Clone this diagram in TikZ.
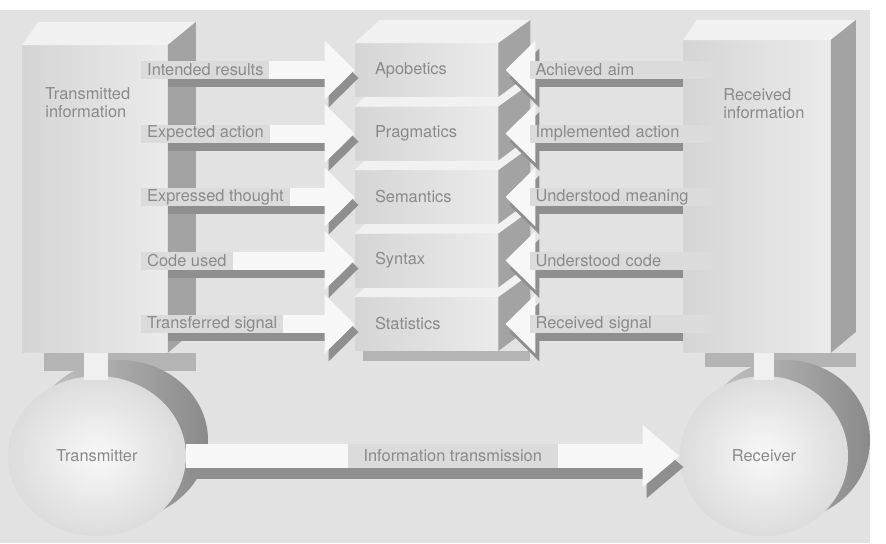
\documentclass[tikz,border=0pt]{standalone}
\usepackage{fontspec}
\setmainfont{TeX Gyre Heros}
\usetikzlibrary{arrows.meta,calc,shapes.geometric}
\definecolor{paper}{HTML}{E2E2E2}
\definecolor{frontl}{HTML}{D5D5D5}
\definecolor{frontr}{HTML}{EBEBEB}
\definecolor{topg}{HTML}{F1F1F1}
\definecolor{sideg}{HTML}{A3A3A3}
\definecolor{shadowg}{HTML}{8F8F8F}
\definecolor{floorg}{HTML}{B4B4B4}
\definecolor{labelg}{HTML}{DBDBDB}
\definecolor{bandg}{HTML}{F7F7F7}
\definecolor{textg}{HTML}{8A8A8A}
\definecolor{discin}{HTML}{F8F8F8}
\definecolor{discout}{HTML}{DCDCDC}
\definecolor{rimin}{HTML}{C6C6C6}
\definecolor{rimout}{HTML}{8A8A8A}
\definecolor{neckg}{HTML}{F0F0F0}
\tikzset{
  txt/.style={text=textg, font=\fontsize{8.2}{9}\selectfont, inner sep=0pt},
  block/.style={txt, anchor=north west, left color=frontl, right color=frontr},
  slab/.style={txt, left color=frontl, right color=frontr, minimum width=71.5pt,
    minimum height=26.5pt, text width=51.5pt, inner xsep=10pt, align=left},
  topface/.style={fill=topg},
  sideface/.style={fill=sideg},
  floorshadow/.style={fill=floorg},
  disc/.style={txt, ellipse, inner color=discin, outer color=discout, minimum height=80pt},
  rim/.style={ellipse, inner sep=0pt, left color=rimin, right color=rimout, minimum height=80pt},
  band/.style={draw=bandg, line width=9pt, -{Triangle[length=15pt,width=28.5pt]}},
  bandshadow/.style={band, draw=shadowg},
  lab/.style={txt, fill=labelg, minimum height=9pt, inner xsep=3pt},
}
\begin{document}
\begin{tikzpicture}[x=0.5pt, y=-0.5pt]
  \useasboundingbox (0,0) rectangle (886,543);
  \fill[paper] (0,10) rectangle (870,543);
  % sender and receiver blocks
  \node[block, minimum width=72.5pt, minimum height=153.5pt] (ti) at (22,45) {};
  \fill[topface] (ti.north west) -- ++(16,-23) -- ++(157,0) -- (ti.north east) -- cycle;
  \fill[sideface] (ti.north east) -- ++(28,-23) -- ++(0,307) -- (ti.south east) -- cycle;
  \node[txt, anchor=north west, align=left] (tilab) at ($(ti.north west)+(23,42)$) {Transmitted\\information};
  \node[block, minimum width=73.5pt, minimum height=156pt] (ri) at (683,40) {};
  \fill[topface] (ri.north west) -- ++(14,-20) -- ++(158,0) -- (ri.north east) -- cycle;
  \fill[sideface] (ri.north east) -- ++(25,-20) -- ++(0,312) -- (ri.south east) -- cycle;
  \node[txt, anchor=north west, align=left] (rilab) at ($(ri.north west)+(40,48)$) {Received\\information};
  \fill[floorshadow] ($(ti.south west)+(22,0)$) rectangle ($(ti.south east)+(28,18)$);
  \fill[floorshadow] ($(ri.south west)+(22,0)$) rectangle ($(ri.south east)+(25,14)$);
  % discs
  \node[rim, minimum width=89pt] (txrim) at (119,440) {};
  \node[rim, minimum width=84pt] (rxrim) at (786,440) {};
  \node[disc, minimum width=89pt] (tx) at (97,456) {Transmitter};
  \node[disc, minimum width=84pt] (rx) at (764,456) {Receiver};
  \fill[neckg] ($(ti.south)+(-11,0)$) rectangle ($(tx.north)+(11,4)$);
  \fill[neckg] ($(rx.north |- ri.south)+(-10,0)$) rectangle ($(rx.north)+(10,4)$);
  \draw[bandshadow, line width=12pt, -{Triangle[length=18.5pt,width=30pt]}] ($(tx.east)+(4,11)$) -- ($(rx.west)+(4,11)$);
  \draw[band, line width=12pt, -{Triangle[length=18.5pt,width=30pt]}] (tx.east) -- (rx.west);
  \path (tx.east) -- node[lab, minimum height=12pt, inner xsep=8pt, pos=0.54] (itlab) {Information transmission} (rx.west);
  % the five levels
  \foreach \n/\t/\y in {sta/Statistics/324, syn/Syntax/260.5, sem/Semantics/197,
                        pra/Pragmatics/133.5, apo/Apobetics/70} {
    \node[slab] (\n) at (426.5,\y) {\t};
    \fill[topface] (\n.north west) -- ++(25,-23) -- ++(150,0) -- (\n.north east) -- cycle;
    \fill[sideface] (\n.north east) -- ++(32,-23) -- ++(0,53) -- (\n.south east) -- cycle;
  }
  \fill[floorshadow] ($(sta.south west)+(8,0)$) rectangle ($(sta.south east)+(32,10)$);
  % sender side
  \foreach \n/\l in {apo/Intended results, pra/Expected action, sem/Expressed thought,
                     syn/Code used, sta/Transferred signal} {
    \draw[bandshadow] ($(ti.east |- \n.west)+(0,8)$) -- ($(\n.west)+(4,8)$);
    \draw[band] ($(ti.east |- \n.west)+(-27,0)$) -- (\n.west);
    \node[lab, anchor=west] (\n-in) at ($(ti.east |- \n.west)+(-27,0)$) {\l};
  }
  % receiver side
  \foreach \n/\l in {apo/Achieved aim, pra/Implemented action, sem/Understood meaning,
                     syn/Understood code, sta/Received signal} {
    \draw[bandshadow] ($(ri.west |- \n.east)+(0,8)$) -- ($(\n.east)+(11,8)$);
    \draw[band] ($(ri.west |- \n.east)+(30,0)$) -- ($(\n.east)+(7,0)$);
    \node[lab, anchor=east, text width=85.5pt, align=left] (\n-out) at ($(ri.west |- \n.east)+(30,0)$) {\l};
  }
\end{tikzpicture}
\end{document}
